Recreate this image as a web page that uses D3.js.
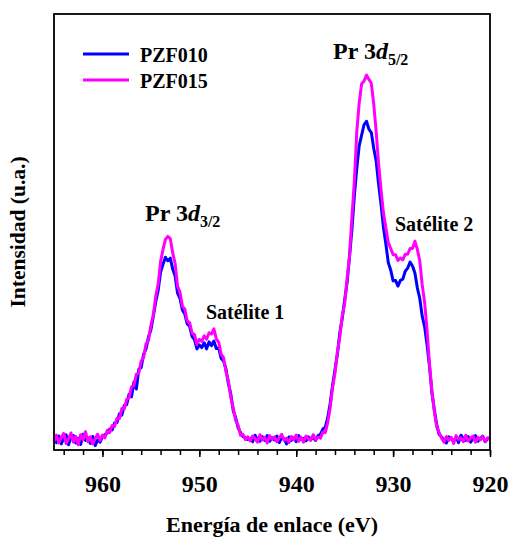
<!DOCTYPE html>
<html>
<head>
<meta charset="utf-8">
<script src="https://cdn.jsdelivr.net/npm/d3@7"></script>
<style>
  body { margin: 0; background: #fff; }
</style>
</head>
<body>
<script>
// binding energy grid (eV), 0.25 eV steps from 965 down to 920
var energy = d3.range(0, 181).map(function(i) { return 965 - i * 0.25; });

// PZF010 (blue)
var pzf010 = [
  2.8, 1.7, 3.2, 1.4, 2.6, 3.5, 1.2, 2.9, 3.3, 1.6, 2.7, 1.3, 3.6, 2.2, 2.8, 1.5, 3.1, 1.0, 2.3,
  1.8, 3.0, 3.5, 3.9, 4.8, 4.6, 6.2, 6.3, 8.3, 8.0, 10.2, 10.4, 12.8, 12.2, 15.6, 14.0, 18.5, 18.9,
  22.0, 23.2, 25.9, 27.6, 30.6, 34.0, 36.6, 40.8, 42.6, 44.2, 43.4, 44.0, 41.5, 39.9, 36.0, 34.8,
  32.1, 31.2, 28.9, 28.4, 26.0, 25.3, 23.2, 24.1, 23.5, 24.6, 23.2, 24.8, 23.9, 25.0, 23.3, 23.4,
  21.0, 20.4, 18.6, 15.2, 12.8, 9.0, 7.4, 5.1, 4.0, 3.1, 2.9, 2.4,
  2.7, 1.9, 3.4, 2.4, 2.0, 3.1, 2.2, 3.3, 2.0, 2.8, 2.3, 3.2, 1.7, 2.9, 2.6, 1.4, 3.0, 2.2, 2.8, 1.9,
  3.3, 2.4, 2.7, 2.1, 3.0, 2.5, 2.8, 2.2,
  3.3, 3.6, 4.8, 5.2, 7.4, 10.6, 14.8, 18.4, 22.0, 26.9, 30.2, 34.4, 38.4, 44.3, 50.6, 58.3, 64.6,
  69.8, 72.2, 74.6, 75.4, 73.6, 72.8, 69.2, 66.3, 61.0, 56.4, 51.1, 47.3, 43.0, 41.3, 38.8, 38.9,
  37.6, 38.9, 39.2, 41.0, 41.7, 43.1, 42.2, 40.6, 37.2, 34.8, 30.7, 28.3, 24.2, 19.3, 13.2, 9.3,
  5.8, 3.6, 3.0,
  2.3, 1.6, 3.0, 2.5, 2.1, 2.9, 1.7, 3.4, 2.6, 2.2, 3.1, 1.8, 2.7, 3.3, 2.0, 2.6, 3.2, 1.9, 2.5, 2.9
];

// PZF015 (magenta)
var pzf015 = [
  2.0, 3.4, 1.6, 2.9, 3.8, 1.5, 2.6, 3.9, 1.8, 3.1, 1.2, 3.5, 2.4, 4.2, 1.9, 3.0, 1.4, 2.7, 3.6,
  2.2, 3.4, 2.8, 4.5, 4.0, 5.6, 5.4, 7.3, 7.2, 9.5, 9.4, 11.6, 12.0, 14.5, 14.8, 17.4, 17.6, 20.4,
  21.2, 24.4, 25.1, 28.6, 31.0, 35.3, 38.0, 43.2, 46.0, 48.3, 49.0, 48.5, 45.2, 42.8, 37.6, 36.2,
  33.0, 32.3, 29.6, 29.2, 26.8, 26.5, 24.2, 25.4, 24.9, 26.2, 25.4, 26.9, 26.6, 27.8, 25.5, 24.7,
  22.0, 21.2, 17.9, 15.9, 12.0, 9.6, 6.8, 5.7, 3.4, 3.6, 2.4, 3.0,
  2.1, 3.2, 2.6, 1.8, 3.5, 2.3, 2.9, 1.6, 3.3, 2.5, 3.0, 1.9, 2.8, 3.6, 2.2, 2.7, 1.7, 3.1, 2.4, 3.4,
  2.0, 2.9, 1.8, 3.2, 2.6, 2.2, 3.5, 2.4,
  3.0, 2.7, 4.1, 4.0, 6.3, 9.6, 14.3, 17.6, 22.5, 26.0, 30.8, 33.6, 39.3, 44.6, 53.5, 61.6, 73.0,
  79.6, 84.0, 84.6, 86.0, 85.0, 84.1, 79.3, 73.1, 65.6, 59.8, 54.4, 51.0, 47.6, 46.2, 44.8, 44.8,
  43.5, 44.0, 43.6, 44.9, 44.9, 46.2, 46.2, 47.9, 46.0, 43.4, 37.9, 33.9, 27.6, 19.9, 13.7, 8.9,
  5.3, 4.0, 2.7,
  1.8, 3.1, 2.2, 2.9, 1.5, 3.3, 2.4, 2.8, 1.9, 3.4, 2.1, 2.7, 3.2, 1.8, 2.9, 2.3, 3.1, 2.0, 2.8, 2.4
];

var seriesNames = ["PZF010", "PZF015"];
var seriesColors = ["#0000ff", "#ff00ff"];
var majorTicks = [960, 950, 940, 930, 920];
var minorTicks = d3.range(964, 919, -2);

var FONT = "'Liberation Serif'";

var margin = {top: 14, right: 19, bottom: 87, left: 54},
    width = 509 - margin.left - margin.right,
    height = 537 - margin.top - margin.bottom;

var svg = d3.select("body").append("svg")
    .attr("width", 509)
    .attr("height", 537);

var g = svg.append("g")
    .attr("transform", "translate(" + margin.left + "," + margin.top + ")");

var x = d3.scaleLinear().domain([965, 920]).range([0, width]);
var y = d3.scaleLinear().domain([0, 100]).range([height, 0]);

var line = d3.line()
    .x(function(d) { return x(d[0]); })
    .y(function(d) { return y(d[1]); });

[pzf010, pzf015].forEach(function(vals, k) {
    g.append("path")
        .datum(energy.map(function(e, i) { return [e, vals[i]]; }))
        .attr("fill", "none")
        .attr("stroke", seriesColors[k])
        .attr("stroke-width", 3)
        .attr("stroke-linejoin", "round")
        .attr("d", line);
});

// minor ticks
g.append("g")
    .attr("transform", "translate(0," + height + ")")
    .call(d3.axisBottom(x).tickValues(minorTicks).tickSize(5).tickFormat(""))
    .call(function(a) { a.select(".domain").remove(); })
    .selectAll("line").attr("stroke-width", 1.5);

// major ticks + labels
var xAxis = g.append("g")
    .attr("transform", "translate(0," + height + ")")
    .call(d3.axisBottom(x).tickValues(majorTicks).tickSize(7).tickPadding(18));
xAxis.select(".domain").remove();
xAxis.selectAll("line").attr("stroke-width", 1.5);
xAxis.selectAll("text")
    .style("font-family", FONT)
    .style("font-weight", "bold")
    .style("font-size", "24px")
    .attr("fill", "#000");

// frame
g.append("rect")
    .attr("width", width)
    .attr("height", height)
    .attr("fill", "none")
    .attr("stroke", "#000")
    .attr("stroke-width", 1.8);

function label(sel, size) {
    return sel.style("font-family", FONT)
        .style("font-weight", "bold")
        .style("font-size", size + "px")
        .attr("fill", "#000");
}

// axis titles
label(svg.append("text"), 22)
    .attr("x", margin.left + width / 2)
    .attr("y", 532)
    .style("text-anchor", "middle")
    .text("Energía de enlace (eV)");

label(svg.append("text"), 21.5)
    .attr("transform", "rotate(-90)")
    .attr("x", -(margin.top + height / 2))
    .attr("y", 25)
    .style("text-anchor", "middle")
    .text("Intensidad (u.a.)");

// legend
seriesNames.forEach(function(name, k) {
    var ly = 54 + k * 26;
    svg.append("line")
        .attr("x1", 83).attr("x2", 129)
        .attr("y1", ly).attr("y2", ly)
        .attr("stroke", seriesColors[k])
        .attr("stroke-width", 3);
    label(svg.append("text"), 20)
        .attr("x", 140)
        .attr("y", ly + 7.5)
        .text(name);
});

// peak labels
function peakLabel(px, py, sub) {
    var t = label(svg.append("text"), 24).attr("x", px).attr("y", py);
    t.append("tspan").text("Pr 3");
    t.append("tspan").style("font-style", "italic").text("d");
    t.append("tspan").attr("dy", 6).style("font-size", "16px").text(sub);
}
peakLabel(333, 59, "5/2");
peakLabel(145, 220.5, "3/2");

label(svg.append("text"), 20).attr("x", 395).attr("y", 231).text("Satélite 2");
label(svg.append("text"), 20).attr("x", 206).attr("y", 319).text("Satélite 1");
</script>
</body>
</html>
